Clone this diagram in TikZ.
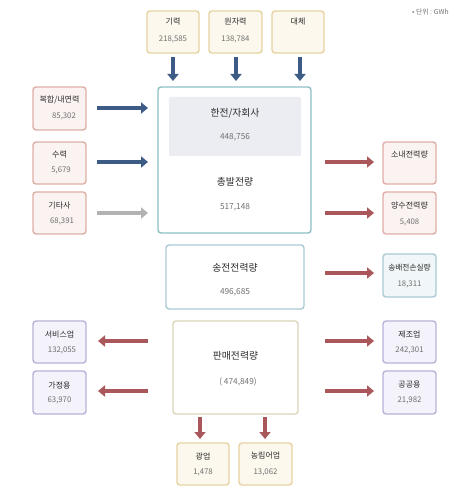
\documentclass[tikz,border=0pt]{standalone}
\usepackage{fontspec}
\setmainfont{Noto Sans CJK KR}
\usetikzlibrary{arrows.meta}
\definecolor{tanB}{HTML}{E6D3A0}
\definecolor{tanF}{HTML}{FCF8EE}
\definecolor{pinkB}{HTML}{DEAFA6}
\definecolor{pinkF}{HTML}{FBF3F1}
\definecolor{tealB}{HTML}{8DC1C9}
\definecolor{grayF}{HTML}{ECEDF2}
\definecolor{lblueB}{HTML}{ABCAD6}
\definecolor{lblueF}{HTML}{F1F6F8}
\definecolor{oliveB}{HTML}{D9D5B9}
\definecolor{lavB}{HTML}{B9B2D9}
\definecolor{lavF}{HTML}{F4F2FA}
\definecolor{arBlue}{HTML}{3C5C86}
\definecolor{arGray}{HTML}{B2B2B2}
\definecolor{arRed}{HTML}{A9575B}
\definecolor{txt}{HTML}{2A2A2A}
\definecolor{num}{HTML}{707070}
\tikzset{
  box/.style={draw, line width=1.4pt, rounded corners=3pt, minimum width=52pt, minimum height=42pt, inner sep=0pt},
  topbox/.style={box, draw=tanB, fill=tanF},
  pinkbox/.style={box, draw=pinkB, fill=pinkF},
  lavbox/.style={box, draw=lavB, fill=lavF},
  bluebox/.style={box, draw=lblueB, fill=lblueF},
  lbl/.style={font=\fontsize{8}{9}\selectfont, text=txt, inner sep=0pt},
  nmb/.style={font=\fontsize{7.8}{9}\selectfont, text=num, inner sep=0pt},
  biglbl/.style={font=\fontsize{9.8}{11}\selectfont, text=txt, inner sep=0pt},
  bignmb/.style={font=\fontsize{8.3}{9}\selectfont, text=num, inner sep=0pt},
  flow/.style={line width=3.2pt, -{Triangle[length=7pt,width=11pt]}},
  fblue/.style={flow, draw=arBlue, arBlue},
  fgray/.style={flow, draw=arGray, arGray},
  fred/.style={flow, draw=arRed, arRed},
}
\begin{document}
\begin{tikzpicture}[x=1pt,y=-1pt]
\useasboundingbox[fill=white] (0,0) rectangle (470,494);

% unit
\node[font=\fontsize{6.8}{8}\selectfont, text=num, anchor=west, inner sep=0pt] (unit) at (412,12) {• 단위 : GWh};

% top boxes
\node[topbox] (gir) at (173,32) {};
\node[lbl] (girL) at (173,22) {기력};
\node[nmb] (girN) at (173,39) {218,585};
\node[topbox, minimum width=53pt] (won) at (235.5,32) {};
\node[lbl] (wonL) at (235.5,22) {원자력};
\node[nmb] (wonN) at (235.5,39) {138,784};
\node[topbox] (dae) at (298,32) {};
\node[lbl] (daeL) at (298,22) {대체};

\coordinate (a1s) at (173,57); \coordinate (a1e) at (173,81);
\coordinate (a2s) at (236,57); \coordinate (a2e) at (236,81);
\coordinate (a3s) at (300,57); \coordinate (a3e) at (300,81);
\draw[fblue] (a1s) -- (a1e);
\draw[fblue] (a2s) -- (a2e);
\draw[fblue] (a3s) -- (a3e);

% main box
\node[box, draw=tealB, fill=white, minimum width=153pt, minimum height=146pt] (main) at (234.5,160) {};
\node[draw=none, fill=grayF, rounded corners=2pt, minimum width=132pt, minimum height=59pt, inner sep=0pt] (kepco) at (235,126.5) {};
\node[biglbl] (kepL) at (235,113) {한전/자회사};
\node[bignmb] (kepN) at (235,137) {448,756};
\node[biglbl] (totL) at (235,182) {총발전량};
\node[bignmb] (totN) at (235,207) {517,148};

% left input boxes
\node[pinkbox, minimum width=53pt, minimum height=43pt] (bok) at (59.5,108.5) {};
\node[lbl] (bokL) at (59.5,100) {복합/내연력};
\node[nmb] (bokN) at (64,116) {85,302};
\node[pinkbox, minimum width=53pt] (sur) at (59.5,163) {};
\node[lbl] (surL) at (59.5,155) {수력};
\node[nmb] (surN) at (61,170) {5,679};
\node[pinkbox, minimum width=53pt] (gita) at (59.5,213) {};
\node[lbl] (gitaL) at (59.5,206) {기타사};
\node[nmb] (gitaN) at (62,221) {68,391};

\coordinate (l1s) at (97,108); \coordinate (l1e) at (148,108);
\coordinate (l2s) at (97,162); \coordinate (l2e) at (148,162);
\coordinate (l3s) at (97,213); \coordinate (l3e) at (148,213);
\draw[fblue] (l1s) -- (l1e);
\draw[fblue] (l2s) -- (l2e);
\draw[fgray] (l3s) -- (l3e);

% right outputs from main
\node[pinkbox, minimum width=53pt] (sonae) at (409.5,163) {};
\node[lbl] (sonaeL) at (409.5,155) {소내전력량};
\node[pinkbox, minimum width=53pt] (yang) at (409.5,213) {};
\node[lbl] (yangL) at (409.5,206) {양수전력량};
\node[nmb] (yangN) at (409.5,222) {5,408};
\coordinate (r1s) at (325,162); \coordinate (r1e) at (374,162);
\coordinate (r2s) at (325,213); \coordinate (r2e) at (374,213);
\draw[fred] (r1s) -- (r1e);
\draw[fred] (r2s) -- (r2e);

% transmission
\node[box, draw=lblueB, fill=white, minimum width=138pt, minimum height=64pt] (song) at (235,277) {};
\node[biglbl] (songL) at (235,268) {송전전력량};
\node[bignmb] (songN) at (235,292) {496,685};
\node[bluebox, minimum width=53pt, minimum height=43pt] (loss) at (409.5,275.5) {};
\node[lbl, font=\fontsize{7.7}{9}\selectfont] (lossL) at (409.5,268) {송배전손실량};
\node[nmb] (lossN) at (409.5,284) {18,311};
\coordinate (r3s) at (325,273); \coordinate (r3e) at (374,273);
\draw[fred] (r3s) -- (r3e);

% sales
\node[box, draw=oliveB, fill=white, minimum width=125pt, minimum height=93pt] (sale) at (235.5,367.5) {};
\node[biglbl] (saleL) at (235.5,356) {판매전력량};
\node[bignmb] (saleN) at (238,382) {( 474,849)};

\node[lavbox, minimum width=53pt] (serv) at (59.5,342) {};
\node[lbl] (servL) at (59.5,335) {서비스업};
\node[nmb] (servN) at (62,350) {132,055};
\node[lavbox, minimum width=53pt, minimum height=43pt] (home) at (59.5,392.5) {};
\node[lbl] (homeL) at (59.5,385) {가정용};
\node[nmb] (homeN) at (59.5,400) {63,970};
\coordinate (s1s) at (148,341); \coordinate (s1e) at (98,341);
\coordinate (s2s) at (148,391); \coordinate (s2e) at (98,391);
\draw[fred] (s1s) -- (s1e);
\draw[fred] (s2s) -- (s2e);

\node[lavbox, minimum width=53pt] (manu) at (409.5,342) {};
\node[lbl] (manuL) at (409.5,335) {제조업};
\node[nmb] (manuN) at (409.5,350) {242,301};
\node[lavbox, minimum width=53pt, minimum height=43pt] (pub) at (409.5,392.5) {};
\node[lbl] (pubL) at (409.5,385) {공공용};
\node[nmb] (pubN) at (409.5,400) {21,982};
\coordinate (s3s) at (325,341); \coordinate (s3e) at (374,341);
\coordinate (s4s) at (325,391); \coordinate (s4e) at (374,391);
\draw[fred] (s3s) -- (s3e);
\draw[fred] (s4s) -- (s4e);

\coordinate (d1s) at (200,417); \coordinate (d1e) at (200,439);
\coordinate (d2s) at (265,417); \coordinate (d2e) at (265,439);
\draw[fred] (d1s) -- (d1e);
\draw[fred] (d2s) -- (d2e);

\node[topbox] (mine) at (203,464) {};
\node[lbl] (mineL) at (203,456) {광업};
\node[nmb] (mineN) at (203,472) {1,478};
\node[topbox, minimum width=53pt] (agri) at (265.5,464) {};
\node[lbl] (agriL) at (265.5,456) {농림어업};
\node[nmb] (agriN) at (265.5,472) {13,062};
\end{tikzpicture}
\end{document}
